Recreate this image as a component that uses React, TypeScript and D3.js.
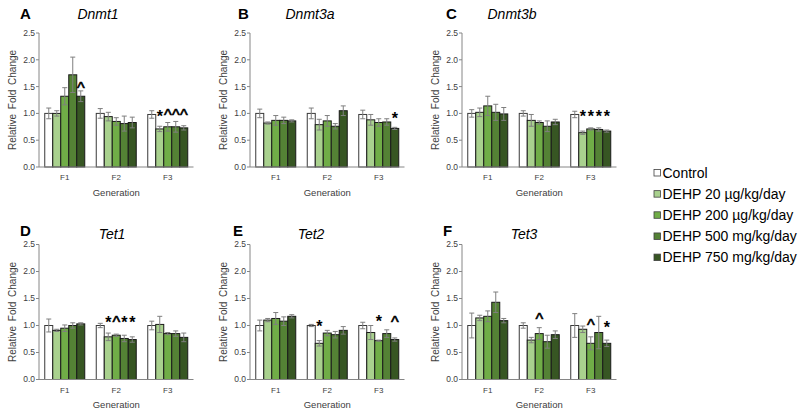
import React from "react";
import * as d3 from "d3";

const generations = ["F1", "F2", "F3"];
const seriesNames = [
  "Control",
  "DEHP 20 µg/kg/day",
  "DEHP 200 µg/kg/day",
  "DEHP 500 mg/kg/day",
  "DEHP 750 mg/kg/day",
];
const seriesColors = ["#ffffff", "#a9d18e", "#70ad47", "#548235", "#375623"];
const yTicks = [0, 0.5, 1.0, 1.5, 2.0, 2.5];
const panelLetters = ["A", "B", "C", "D", "E", "F"];
const geneNames = ["Dnmt1", "Dnmt3a", "Dnmt3b", "Tet1", "Tet2", "Tet3"];

// means[generation][series]
const dnmt1Means = [[1.0, 1.0, 1.32, 1.72, 1.32], [1.0, 0.94, 0.85, 0.81, 0.83], [0.98, 0.71, 0.75, 0.75, 0.73]];
const dnmt1Errors = [[0.1, 0.05, 0.16, 0.33, 0.1], [0.09, 0.08, 0.07, 0.14, 0.1], [0.07, 0.05, 0.08, 0.1, 0.04]];
const dnmt3aMeans = [[1.0, 0.82, 0.87, 0.87, 0.86], [1.0, 0.79, 0.86, 0.76, 1.05], [0.98, 0.88, 0.83, 0.84, 0.72]];
const dnmt3aErrors = [[0.08, 0.02, 0.09, 0.06, 0.02], [0.1, 0.1, 0.1, 0.05, 0.09], [0.08, 0.1, 0.07, 0.06, 0.02]];
const dnmt3bMeans = [[1.0, 1.02, 1.14, 1.02, 0.99], [1.0, 0.87, 0.83, 0.76, 0.84], [0.98, 0.64, 0.71, 0.7, 0.67]];
const dnmt3bErrors = [[0.07, 0.08, 0.18, 0.15, 0.12], [0.05, 0.11, 0.03, 0.1, 0.05], [0.06, 0.03, 0.02, 0.03, 0.02]];
const tet1Means = [[1.0, 0.91, 0.95, 1.0, 1.03], [1.0, 0.79, 0.82, 0.76, 0.74], [1.0, 1.02, 0.85, 0.85, 0.78]];
const tet1Errors = [[0.12, 0.02, 0.06, 0.05, 0.02], [0.04, 0.07, 0.02, 0.06, 0.05], [0.08, 0.15, 0.02, 0.05, 0.08]];
const tet2Means = [[1.0, 1.1, 1.13, 1.08, 1.17], [1.0, 0.67, 0.86, 0.83, 0.91], [1.0, 0.87, 0.72, 0.85, 0.74]];
const tet2Errors = [[0.1, 0.03, 0.11, 0.08, 0.03], [0.02, 0.05, 0.05, 0.06, 0.07], [0.06, 0.13, 0.01, 0.07, 0.03]];
const tet3Means = [[1.0, 1.14, 1.17, 1.43, 1.09], [1.0, 0.73, 0.85, 0.7, 0.83], [1.0, 0.93, 0.67, 0.87, 0.67]];
const tet3Errors = [[0.23, 0.05, 0.1, 0.19, 0.04], [0.05, 0.05, 0.11, 0.12, 0.07], [0.22, 0.06, 0.12, 0.3, 0.06]];

const panelMeans = [dnmt1Means, dnmt3aMeans, dnmt3bMeans, tet1Means, tet2Means, tet3Means];
const panelErrors = [dnmt1Errors, dnmt3aErrors, dnmt3bErrors, tet1Errors, tet2Errors, tet3Errors];

// significance marks: [panel, generation, series, level, mark]
const marks: [number, number, number, number, string][] = [
  [0, 0, 4, 1.53, "^"],
  [0, 2, 1, 1.01, "*"], [0, 2, 2, 1.01, "^"], [0, 2, 3, 1.01, "^"], [0, 2, 4, 1.01, "^"],
  [1, 2, 4, 0.97, "*"],
  [2, 2, 1, 1.0, "*"], [2, 2, 2, 1.0, "*"], [2, 2, 3, 1.0, "*"], [2, 2, 4, 1.0, "*"],
  [3, 1, 1, 1.12, "*"], [3, 1, 2, 1.12, "^"], [3, 1, 3, 1.12, "*"], [3, 1, 4, 1.12, "*"],
  [4, 1, 1, 1.04, "*"], [4, 2, 2, 1.13, "*"], [4, 2, 4, 1.12, "^"],
  [5, 1, 2, 1.16, "^"], [5, 2, 2, 1.06, "^"], [5, 2, 4, 1.03, "*"],
];

// layout (not data)
const colX = [39, 250, 462];
const rowTop = [33, 244.5];
const rowBottom = [167, 379.5];
const letterX = [20, 238, 446, 20, 233, 443];
const geneX = [98, 310, 512, 112, 311, 524];
const yTitleX = [12, 223, 435, 12, 223, 435];
const FONT = "'Liberation Sans', Arial, Helvetica, sans-serif";
const AXIS = "#868686";
const TXT = "#404040";

function Panel({ idx }: { idx: number }) {
  const row = Math.floor(idx / 3);
  const col = idx % 3;
  const x0 = colX[col];
  const plotW = 154.5;
  const y = d3.scaleLinear().domain([0, 2.5]).range([rowBottom[row], rowTop[row]]);
  const xg = d3.scaleBand<string>().domain(generations).range([x0, x0 + plotW]).padding(0);
  const xs = d3.scaleBand<string>().domain(seriesNames).range([-20, 20]).padding(0);
  const means = panelMeans[idx];
  const errs = panelErrors[idx];
  const titleY = row === 0 ? 18.5 : 238.5;
  const letterY = row === 0 ? 18.5 : 236.3;
  const labY = rowBottom[row] + 13;
  const genY = rowBottom[row] + 28.5;
  const midY = (rowTop[row] + rowBottom[row]) / 2;
  return (
    <g>
      <text x={letterX[idx]} y={letterY} fontSize={15} fontWeight="bold" fill="#000">{panelLetters[idx]}</text>
      <text x={geneX[idx]} y={titleY} fontSize={14} fontStyle="italic" textAnchor="middle" fill="#000">{geneNames[idx]}</text>
      <text transform={`translate(${yTitleX[idx]},${midY}) rotate(-90)`} textAnchor="middle" dy="0.35em" fontSize={10} wordSpacing={2} fill={TXT}>Relative Fold Change</text>
      {yTicks.map((t) => (
        <g key={t}>
          <line x1={x0 - 3} x2={x0} y1={y(t)} y2={y(t)} stroke={AXIS} />
          <text x={x0 - 4} y={y(t)} dy="0.35em" textAnchor="end" fontSize={8.5} fill={TXT}>{t.toFixed(1)}</text>
        </g>
      ))}
      {generations.map((g, gi) => {
        const cx = (xg(g) as number) + xg.bandwidth() / 2;
        return (
          <g key={g}>
            {seriesNames.map((s, si) => {
              const bx = cx + (xs(s) as number);
              const v = means[gi][si];
              return (
                <rect key={s} x={bx} y={y(v)} width={xs.bandwidth()} height={y(0) - y(v)} fill={seriesColors[si]} stroke={si === 0 ? "#3a3a3a" : "#1a1a1a"} strokeWidth={1} />
              );
            })}
            {seriesNames.map((s, si) => {
              const bc = cx + (xs(s) as number) + xs.bandwidth() / 2;
              const v = means[gi][si];
              const e = errs[gi][si];
              return (
                <g key={s} stroke="#7f7f7f" strokeWidth={1}>
                  <line x1={bc} x2={bc} y1={y(v + e)} y2={y(v - e)} />
                  <line x1={bc - 2.5} x2={bc + 2.5} y1={y(v + e)} y2={y(v + e)} />
                  <line x1={bc - 2.5} x2={bc + 2.5} y1={y(v - e)} y2={y(v - e)} />
                </g>
              );
            })}
            <text x={cx} y={labY} textAnchor="middle" fontSize={8} fill={TXT}>{g}</text>
          </g>
        );
      })}
      <line x1={x0} x2={x0} y1={rowTop[row]} y2={rowBottom[row]} stroke={AXIS} />
      <line x1={x0} x2={x0 + plotW} y1={rowBottom[row]} y2={rowBottom[row]} stroke={AXIS} />
      <text x={x0 + plotW / 2} y={genY} textAnchor="middle" fontSize={9.5} fill={TXT}>Generation</text>
      {marks.filter((m) => m[0] === idx).map((m, k) => {
        const cx = (xg(generations[m[1]]) as number) + xg.bandwidth() / 2;
        const bc = cx + (xs(seriesNames[m[2]]) as number) + xs.bandwidth() / 2;
        const isStar = m[4] === "*";
        const fs = isStar ? 16 : 16.5;
        return (
          <text key={k} x={bc} y={y(m[3]) + fs * (isStar ? 0.55 : 0.52)} textAnchor="middle" fontSize={fs} fontWeight={isStar ? "bold" : "normal"} stroke={isStar ? "none" : "#000"} strokeWidth={0.6} fill="#000">{m[4]}</text>
        );
      })}
    </g>
  );
}

export default function App() {
  const legendX = 654;
  const legendY0 = 172.7;
  const legendStep = 21.15;
  return (
    <svg width={800} height={412} style={{ position: "absolute", left: 0, top: 0, background: "#fff" }} fontFamily={FONT}>
      <rect width={800} height={412} fill="#fff" />
      {panelLetters.map((_, i) => (
        <Panel key={i} idx={i} />
      ))}
      {seriesNames.map((s, i) => (
        <g key={s}>
          <rect x={legendX} y={legendY0 + i * legendStep - 3.2} width={6.5} height={6.5} fill={seriesColors[i]} stroke="#404040" strokeWidth={0.8} />
          <text x={legendX + 8.5} y={legendY0 + i * legendStep} dy="0.35em" fontSize={14} fill="#000">{s}</text>
        </g>
      ))}
    </svg>
  );
}
